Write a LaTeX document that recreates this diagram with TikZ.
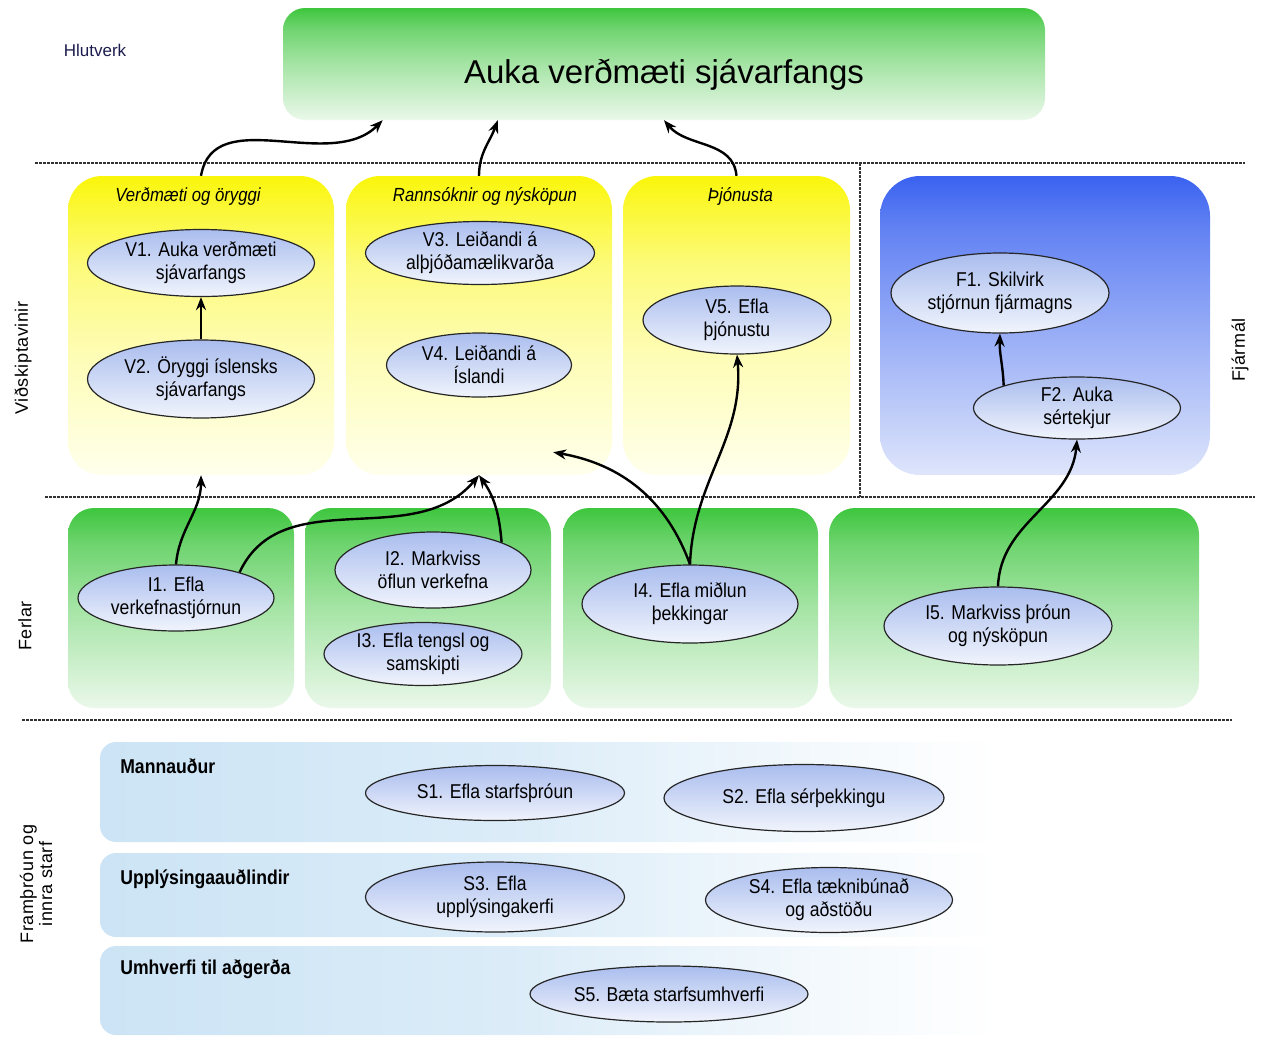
\documentclass[tikz,border=0pt]{standalone}
\usepackage{fontspec}
\setmainfont{Liberation Sans}
\newfontfamily\narrowfont{Liberation Sans}[FakeStretch=0.88]
\newfontfamily\spacedfont{Liberation Sans}[LetterSpace=3]
\usetikzlibrary{arrows.meta, positioning, calc, shapes.geometric}

\definecolor{LeafGreen}{RGB}{62,198,62}
\definecolor{PaleGreen}{RGB}{234,248,234}
\definecolor{SunYellow}{RGB}{250,246,10}
\definecolor{PaleYellow}{RGB}{255,255,236}
\definecolor{FinBlue}{RGB}{58,98,240}
\definecolor{PaleBlue}{RGB}{222,229,251}
\definecolor{OvalTop}{RGB}{170,189,238}
\definecolor{OvalBottom}{RGB}{240,244,252}
\definecolor{BandBlue}{RGB}{204,228,245}
\definecolor{RuleGray}{RGB}{50,50,50}
\definecolor{LabelNavy}{RGB}{28,28,78}
\colorlet{GreenMid}{LeafGreen!40!PaleGreen}
\colorlet{GreenHigh}{LeafGreen!72!PaleGreen}
\colorlet{YellowLow}{SunYellow!24!PaleYellow}
\colorlet{YellowMid}{SunYellow!50!PaleYellow}
\colorlet{YellowHigh}{SunYellow!82!PaleYellow}
\colorlet{BlueMid}{FinBlue!45!PaleBlue}
\colorlet{BlueHigh}{FinBlue!75!PaleBlue}
\colorlet{BandMid}{BandBlue!70!white}
\colorlet{BandLow}{BandBlue!25!white}

\pgfdeclareverticalshading{greenfade}{100bp}{color(0bp)=(PaleGreen); color(25bp)=(PaleGreen);
  color(50bp)=(GreenMid); color(66bp)=(GreenHigh); color(75bp)=(LeafGreen); color(100bp)=(LeafGreen)}
\pgfdeclareverticalshading{yellowfade}{100bp}{color(0bp)=(PaleYellow); color(25bp)=(PaleYellow);
  color(45bp)=(YellowLow); color(60bp)=(YellowMid); color(70bp)=(YellowHigh); color(75bp)=(SunYellow); color(100bp)=(SunYellow)}
\pgfdeclareverticalshading{bluefade}{100bp}{color(0bp)=(PaleBlue); color(25bp)=(PaleBlue);
  color(50bp)=(BlueMid); color(66bp)=(BlueHigh); color(75bp)=(FinBlue); color(100bp)=(FinBlue)}
\pgfdeclarehorizontalshading{bandfade}{100bp}{color(0bp)=(BandBlue); color(25bp)=(BandBlue);
  color(48bp)=(BandMid); color(64bp)=(BandLow); color(75bp)=(white); color(100bp)=(white)}

\newcommand{\ovalfont}{\narrowfont\fontsize{20}{23}\selectfont}

\tikzset{
  titlebox/.style={rectangle, rounded corners=22pt, shading=greenfade, inner sep=0pt,
    text height=38pt, text depth=0pt, font=\fontsize{33}{38}\selectfont},
  custbox/.style={rectangle, rounded corners=34pt, shading=yellowfade, inner sep=0pt, minimum height=299},
  finbox/.style={rectangle, rounded corners=40pt, shading=bluefade, inner sep=0pt, minimum height=299},
  procbox/.style={rectangle, rounded corners=26pt, shading=greenfade, inner sep=0pt, minimum height=200},
  band/.style={rectangle, rounded corners=16pt, shading=bandfade, inner sep=0pt, minimum width=900},
  oval/.style={ellipse, draw=black!85, line width=1.2pt, top color=OvalTop, bottom color=OvalBottom,
    inner sep=0pt, align=center, font=\ovalfont},
  boxtitle/.style={anchor=base, font=\narrowfont\itshape\fontsize{19}{22}\selectfont},
  bandlabel/.style={anchor=base west, font=\narrowfont\bfseries\fontsize{20}{23}\selectfont},
  sidelabel/.style={rotate=90, align=center, font=\spacedfont\fontsize{18}{19}\selectfont},
  rule/.style={RuleGray, line width=2.4pt, dash pattern=on 3pt off 1pt},
  arr/.style={-{Stealth[length=13pt,width=10pt]}, line width=2.4pt}
}

\begin{document}
\begin{tikzpicture}[x=1pt, y=-1pt]
  \useasboundingbox (0,0) rectangle (1264,1037);

  % mission
  \node[titlebox, minimum width=762, minimum height=112] (title) at (664,64) {Auka verðmæti sjávarfangs};
  \node[text=LabelNavy, font=\fontsize{17}{20}\selectfont] (hlutverk) at (95,50) {Hlutverk};

  % section rules
  \draw[rule] (35,163) -- (1245,163);
  \draw[rule] (45,497) -- (1255,497);
  \draw[rule] (22,720) -- (1232,720);
  \draw[rule] (860,163) -- (860,497);

  % customers and finance
  \node[custbox, minimum width=266] (va) at (201,325.5) {};
  \node[custbox, minimum width=266] (vb) at (479,325.5) {};
  \node[custbox, minimum width=227] (vc) at (736.5,325.5) {};
  \node[finbox, minimum width=330] (fb) at (1045,325.5) {};
  \node[boxtitle] (vat) at ([xshift=-13pt,yshift=-26pt]va.north) {Verðmæti og öryggi};
  \node[boxtitle] (vbt) at ([xshift=6pt,yshift=-26pt]vb.north) {Rannsóknir og nýsköpun};
  \node[boxtitle] (vct) at ([xshift=4pt,yshift=-26pt]vc.north) {Þjónusta};

  \node[oval, minimum width=227, minimum height=67] (v1) at (201,263) {V1. Auka verðmæti\\sjávarfangs};
  \node[oval, minimum width=227, minimum height=78] (v2) at (201,379) {V2. Öryggi íslensks\\sjávarfangs};
  \node[oval, minimum width=229, minimum height=63] (v3) at (480,253) {V3. Leiðandi á\\alþjóðamælikvarða};
  \node[oval, minimum width=185, minimum height=64] (v4) at (479,365) {V4. Leiðandi á\\Íslandi};
  \node[oval, minimum width=188, minimum height=68] (v5) at (737,320) {V5. Efla\\þjónustu};
  \node[oval, minimum width=218, minimum height=80] (f1) at (1000,293) {F1. Skilvirk\\stjórnun fjármagns};
  \node[oval, minimum width=207, minimum height=62] (f2) at (1077,408) {F2. Auka\\sértekjur};

  % processes
  \node[procbox, minimum width=226] (pa) at (181,608) {};
  \node[procbox, minimum width=246] (pb) at (428,608) {};
  \node[procbox, minimum width=255] (pc) at (690.5,608) {};
  \node[procbox, minimum width=370] (pd) at (1014,608) {};

  \node[oval, minimum width=196, minimum height=66] (i1) at (176,598) {I1. Efla\\verkefnastjórnun};
  \node[oval, minimum width=196, minimum height=76] (i2) at (433,570) {I2. Markviss\\öflun verkefna};
  \node[oval, minimum width=198, minimum height=63] (i3) at (423,654) {I3. Efla tengsl og\\samskipti};
  \node[oval, minimum width=216, minimum height=78] (i4) at (690,604) {I4. Efla miðlun\\þekkingar};
  \node[oval, minimum width=228, minimum height=78] (i5) at (998,626) {I5. Markviss þróun\\og nýsköpun};

  % learning and growth
  \node[band, minimum height=100] (sa) at (550,792) {};
  \node[band, minimum height=84] (sb) at (550,895) {};
  \node[band, minimum height=89] (sc) at (550,990.5) {};
  \node[bandlabel] (sat) at ([xshift=17pt,yshift=-32pt]sa.north west) {Mannauður};
  \node[bandlabel] (sbt) at ([xshift=17pt,yshift=-32pt]sb.north west) {Upplýsingaauðlindir};
  \node[bandlabel] (sct) at ([xshift=17pt,yshift=-29pt]sc.north west) {Umhverfi til aðgerða};

  \node[oval, minimum width=259, minimum height=55] (s1) at (495,793) {S1. Efla starfsþróun};
  \node[oval, minimum width=280, minimum height=67] (s2) at (804,798) {S2. Efla sérþekkingu};
  \node[oval, minimum width=259, minimum height=70] (s3) at (495,897) {S3. Efla\\upplýsingakerfi};
  \node[oval, minimum width=247, minimum height=65] (s4) at (829,900) {S4. Efla tæknibúnað\\og aðstöðu};
  \node[oval, minimum width=278, minimum height=56] (s5) at (669,994) {S5. Bæta starfsumhverfi};

  % perspectives
  \node[sidelabel] (vidsk) at (23,358) {Viðskiptavinir};
  \node[sidelabel] (fjarmal) at (1240,350) {Fjármál};
  \node[sidelabel] (ferlar) at (25,626) {Ferlar};
  \node[sidelabel] (framth) at (36,884) {Framþróun og\\innra starf};

  % links
  \coordinate (t1) at ($(title.south west)!0.131!(title.south east)$);
  \coordinate (t2) at ($(title.south west)!0.282!(title.south east)$);
  \coordinate (vbin) at ([xshift=-59pt,yshift=23pt]vb.south east);
  \draw[arr] (va.north) to[out=80, in=-135] (t1);
  \draw[arr] (vb.north) to[out=90, in=-110] (t2);
  \draw[arr] (vc.north) to[out=95, in=-50] (title.south);
  \draw[arr] (v2) -- (v1);
  \draw[arr] (f2.163) to[out=92, in=-92] (f1.south);
  \draw[arr] (i1.north) to[out=85, in=-90] (va.south);
  \draw[arr] (i1.22) to[out=65, in=-130] (vb.south);
  \draw[arr] (i2.22) to[out=95, in=-55] (vb.south);
  \draw[arr] (i4.north) to[out=110, in=-10] (vbin);
  \draw[arr] (i4.north) to[out=88, in=-85] (v5.south);
  \draw[arr] (i5.north) to[out=88, in=-95] (f2.south);
\end{tikzpicture}
\end{document}
